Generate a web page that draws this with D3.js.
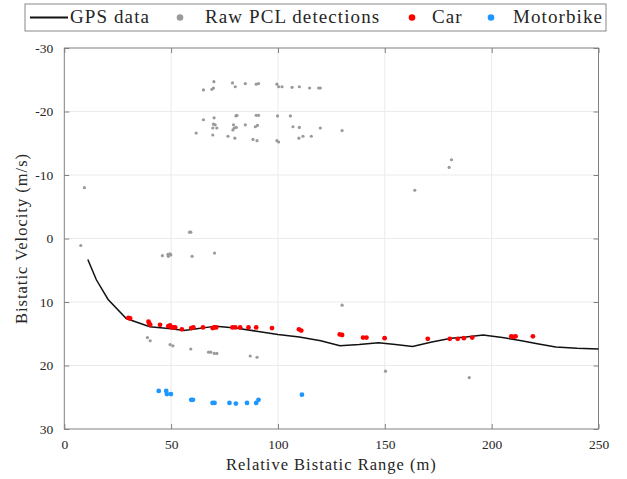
<!DOCTYPE html>
<html>
<head>
<meta charset="utf-8">
<script src="https://cdn.jsdelivr.net/npm/d3@7"></script>
<style>
  body { margin: 0; background: #fff; }
  svg text { font-family: "Liberation Serif", serif; fill: #262626; }
</style>
</head>
<body>
<div id="chart"></div>
<script>
// GPS track (relative bistatic range m, bistatic velocity m/s)
const gpsRange = [11, 15, 20.5, 29, 40, 50, 56, 62, 71, 80, 90, 100, 110, 120, 129, 138, 147, 155, 163, 172, 181, 188, 196, 205, 214, 222, 230, 240, 250];
const gpsVel   = [3.3, 6.5, 9.6, 12.6, 13.9, 14.2, 14.5, 14.2, 13.8, 14.1, 14.6, 15.1, 15.5, 16.1, 16.9, 16.7, 16.4, 16.7, 17.0, 16.3, 15.7, 15.5, 15.2, 15.6, 16.1, 16.6, 17.1, 17.3, 17.4];

// raw PCL detections
const rawRange = [70.0, 65.1, 69.1, 69.8, 78.7, 80.0, 84.7, 89.8, 90.9, 99.5, 100.3, 101.9, 106.6, 110.0, 114.8, 119.0, 119.8,
  65.1, 70.1, 69.8, 70.6, 69.5, 71.4, 80.3, 80.8, 79.2, 79.5, 78.9, 80.5, 84.7, 89.8, 90.9, 89.4, 90.4, 99.8, 105.8, 107.0, 110.0, 119.8,
  61.7, 69.5, 76.6, 79.8, 88.3, 90.2, 99.5, 100.3, 109.8, 111.7, 115.6, 130.0,
  9.4, 7.7, 58.6, 59.2, 45.9, 48.5, 49.5, 48.7, 49.9, 59.8, 70.3, 181.2, 180.1, 164.0,
  38.9, 40.2, 49.5, 50.8, 59.2, 67.5, 68.6, 70.2, 71.4, 87.0, 90.2, 130.0, 150.3, 189.5];
const rawVel = [-24.7, -23.4, -23.5, -23.7, -24.5, -23.9, -24.4, -24.3, -24.4, -24.3, -23.9, -23.9, -23.8, -23.9, -23.7, -23.7, -23.7,
  -18.7, -19.0, -18.0, -17.9, -17.4, -17.4, -19.3, -19.4, -17.9, -17.4, -17.1, -17.5, -17.9, -19.4, -19.4, -17.6, -17.8, -19.3, -19.3, -17.6, -17.5, -17.4,
  -16.6, -16.3, -16.1, -15.8, -15.6, -15.4, -15.4, -15.2, -15.8, -16.1, -16.1, -17.0,
  -8.0, 1.1, -1.0, -1.0, 2.7, 2.5, 2.4, 2.8, 2.6, 2.8, 2.3, -12.4, -11.2, -7.6,
  15.6, 16.1, 16.7, 16.9, 17.4, 17.9, 17.9, 18.1, 18.1, 18.5, 18.7, 10.5, 20.9, 21.9];

// classified detections
const carRange = [30.0, 30.8, 39.4, 39.8, 40.2, 44.8, 48.7, 49.5, 50.3, 51.1, 51.9, 55.0, 59.4, 60.4, 64.9, 69.4, 70.1, 71.1, 78.7, 80.0,
  82.3, 86.2, 89.8, 97.2, 109.8, 110.9, 128.9, 130.0, 139.8, 141.4, 149.9, 170.1, 180.4, 184.1, 187.0, 190.9, 209.2, 210.1, 211.2, 219.3];
const carVel = [12.5, 12.6, 13.1, 13.4, 13.6, 13.6, 13.8, 13.7, 14.0, 14.0, 14.0, 14.3, 14.1, 14.0, 14.0, 14.1, 14.0, 14.0, 14.0, 14.0,
  14.0, 14.0, 14.0, 14.1, 14.3, 14.5, 15.1, 15.2, 15.6, 15.6, 15.7, 15.8, 15.8, 15.8, 15.7, 15.6, 15.4, 15.5, 15.4, 15.4];
const bikeRange = [44.2, 47.7, 48.0, 49.9, 59.4, 60.2, 69.4, 70.3, 77.3, 80.3, 85.5, 89.8, 90.9, 111.2];
const bikeVel   = [24.0, 24.0, 24.5, 24.5, 25.4, 25.4, 25.9, 25.9, 25.9, 26.0, 25.9, 25.9, 25.4, 24.6];

const xTicks = [0, 50, 100, 150, 200, 250];
const yTicks = [-30, -20, -10, 0, 10, 20, 30];
const legendLabels = ['GPS data', 'Raw PCL detections', 'Car', 'Motorbike'];

const W = 627, H = 479;
const plot = { left: 64.3, right: 598.5, top: 48, bottom: 429 };

const svg = d3.select('#chart').append('svg')
  .attr('width', W).attr('height', H);

const x = d3.scaleLinear().domain([0, 250]).range([plot.left, plot.right]);
const y = d3.scaleLinear().domain([-30, 30]).range([plot.top, plot.bottom]);

// grid
svg.append('g').selectAll('line').data(xTicks.slice(1, -1)).join('line')
  .attr('x1', d => x(d)).attr('x2', d => x(d))
  .attr('y1', plot.top).attr('y2', plot.bottom)
  .attr('stroke', '#ebebeb').attr('stroke-width', 1);
svg.append('g').selectAll('line').data(yTicks.slice(1, -1)).join('line')
  .attr('x1', plot.left).attr('x2', plot.right)
  .attr('y1', d => y(d)).attr('y2', d => y(d))
  .attr('stroke', '#ebebeb').attr('stroke-width', 1);

// axes (ticks inside, box on)
const axisColor = '#808080';
function styleAxis(g) {
  g.select('.domain').remove();
  g.selectAll('.tick line').attr('stroke', axisColor);
  g.selectAll('.tick text').attr('fill', '#262626');
}
svg.append('g').attr('transform', `translate(0,${plot.bottom})`)
  .call(d3.axisBottom(x).tickValues(xTicks).tickSizeInner(-5).tickSizeOuter(0).tickPadding(10))
  .call(styleAxis)
  .selectAll('text').style('font-family', '"Liberation Serif", serif').style('font-size', '13.5px');
svg.append('g').attr('transform', `translate(0,${plot.top})`)
  .call(d3.axisTop(x).tickValues(xTicks).tickSizeInner(-5).tickSizeOuter(0).tickFormat(''))
  .call(styleAxis);
svg.append('g').attr('transform', `translate(${plot.left},0)`)
  .call(d3.axisLeft(y).tickValues(yTicks).tickSizeInner(-5).tickSizeOuter(0).tickPadding(11).tickFormat(d => String(d)))
  .call(styleAxis)
  .selectAll('text').style('font-family', '"Liberation Serif", serif').style('font-size', '13.5px');
svg.append('g').attr('transform', `translate(${plot.right},0)`)
  .call(d3.axisRight(y).tickValues(yTicks).tickSizeInner(-5).tickSizeOuter(0).tickFormat(''))
  .call(styleAxis);

svg.append('rect')
  .attr('x', plot.left).attr('y', plot.top)
  .attr('width', plot.right - plot.left).attr('height', plot.bottom - plot.top)
  .attr('fill', 'none').attr('stroke', axisColor).attr('stroke-width', 1);

// raw detections
svg.append('g').selectAll('circle').data(d3.range(rawRange.length)).join('circle')
  .attr('cx', i => x(rawRange[i])).attr('cy', i => y(rawVel[i]))
  .attr('r', 1.6).attr('fill', '#9a9a9a');

// GPS line
const line = d3.line().x(i => x(gpsRange[i])).y(i => y(gpsVel[i]));
svg.append('path').datum(d3.range(gpsRange.length))
  .attr('d', line).attr('fill', 'none')
  .attr('stroke', '#111').attr('stroke-width', 1.5);

// car + motorbike
svg.append('g').selectAll('circle').data(d3.range(carRange.length)).join('circle')
  .attr('cx', i => x(carRange[i])).attr('cy', i => y(carVel[i]))
  .attr('r', 2.4).attr('fill', '#ff0000');
svg.append('g').selectAll('circle').data(d3.range(bikeRange.length)).join('circle')
  .attr('cx', i => x(bikeRange[i])).attr('cy', i => y(bikeVel[i]))
  .attr('r', 2.4).attr('fill', '#1e96ff');

// axis labels
svg.append('text')
  .attr('x', (plot.left + plot.right) / 2).attr('y', 470)
  .attr('text-anchor', 'middle')
  .style('font-size', '16.5px').style('letter-spacing', '1px')
  .text('Relative Bistatic Range (m)');
svg.append('text')
  .attr('transform', `translate(27,${(plot.top + plot.bottom) / 2}) rotate(-90)`)
  .attr('text-anchor', 'middle')
  .style('font-size', '16.5px').style('letter-spacing', '1px')
  .text('Bistatic Velocity (m/s)');

// legend
const legend = svg.append('g');
legend.append('rect')
  .attr('x', 25).attr('y', 4).attr('width', 581).attr('height', 27)
  .attr('fill', '#fff').attr('stroke', '#888').attr('stroke-width', 1);
legend.append('line')
  .attr('x1', 30).attr('x2', 68).attr('y1', 17.5).attr('y2', 17.5)
  .attr('stroke', '#111').attr('stroke-width', 2);
const legendDots = [
  { cx: 180, r: 3.3, fill: '#9a9a9a' },
  { cx: 412, r: 3.3, fill: '#ff0000' },
  { cx: 491, r: 3.3, fill: '#1e96ff' }
];
legend.selectAll('circle').data(legendDots).join('circle')
  .attr('cx', d => d.cx).attr('cy', 17.5).attr('r', d => d.r).attr('fill', d => d.fill);
const legendTextX = [70, 205, 432, 513];
legend.selectAll('text').data(legendLabels).join('text')
  .attr('x', (d, i) => legendTextX[i]).attr('y', 23)
  .style('font-size', '19px').style('letter-spacing', '1.1px')
  .text(d => d);
</script>
</body>
</html>
